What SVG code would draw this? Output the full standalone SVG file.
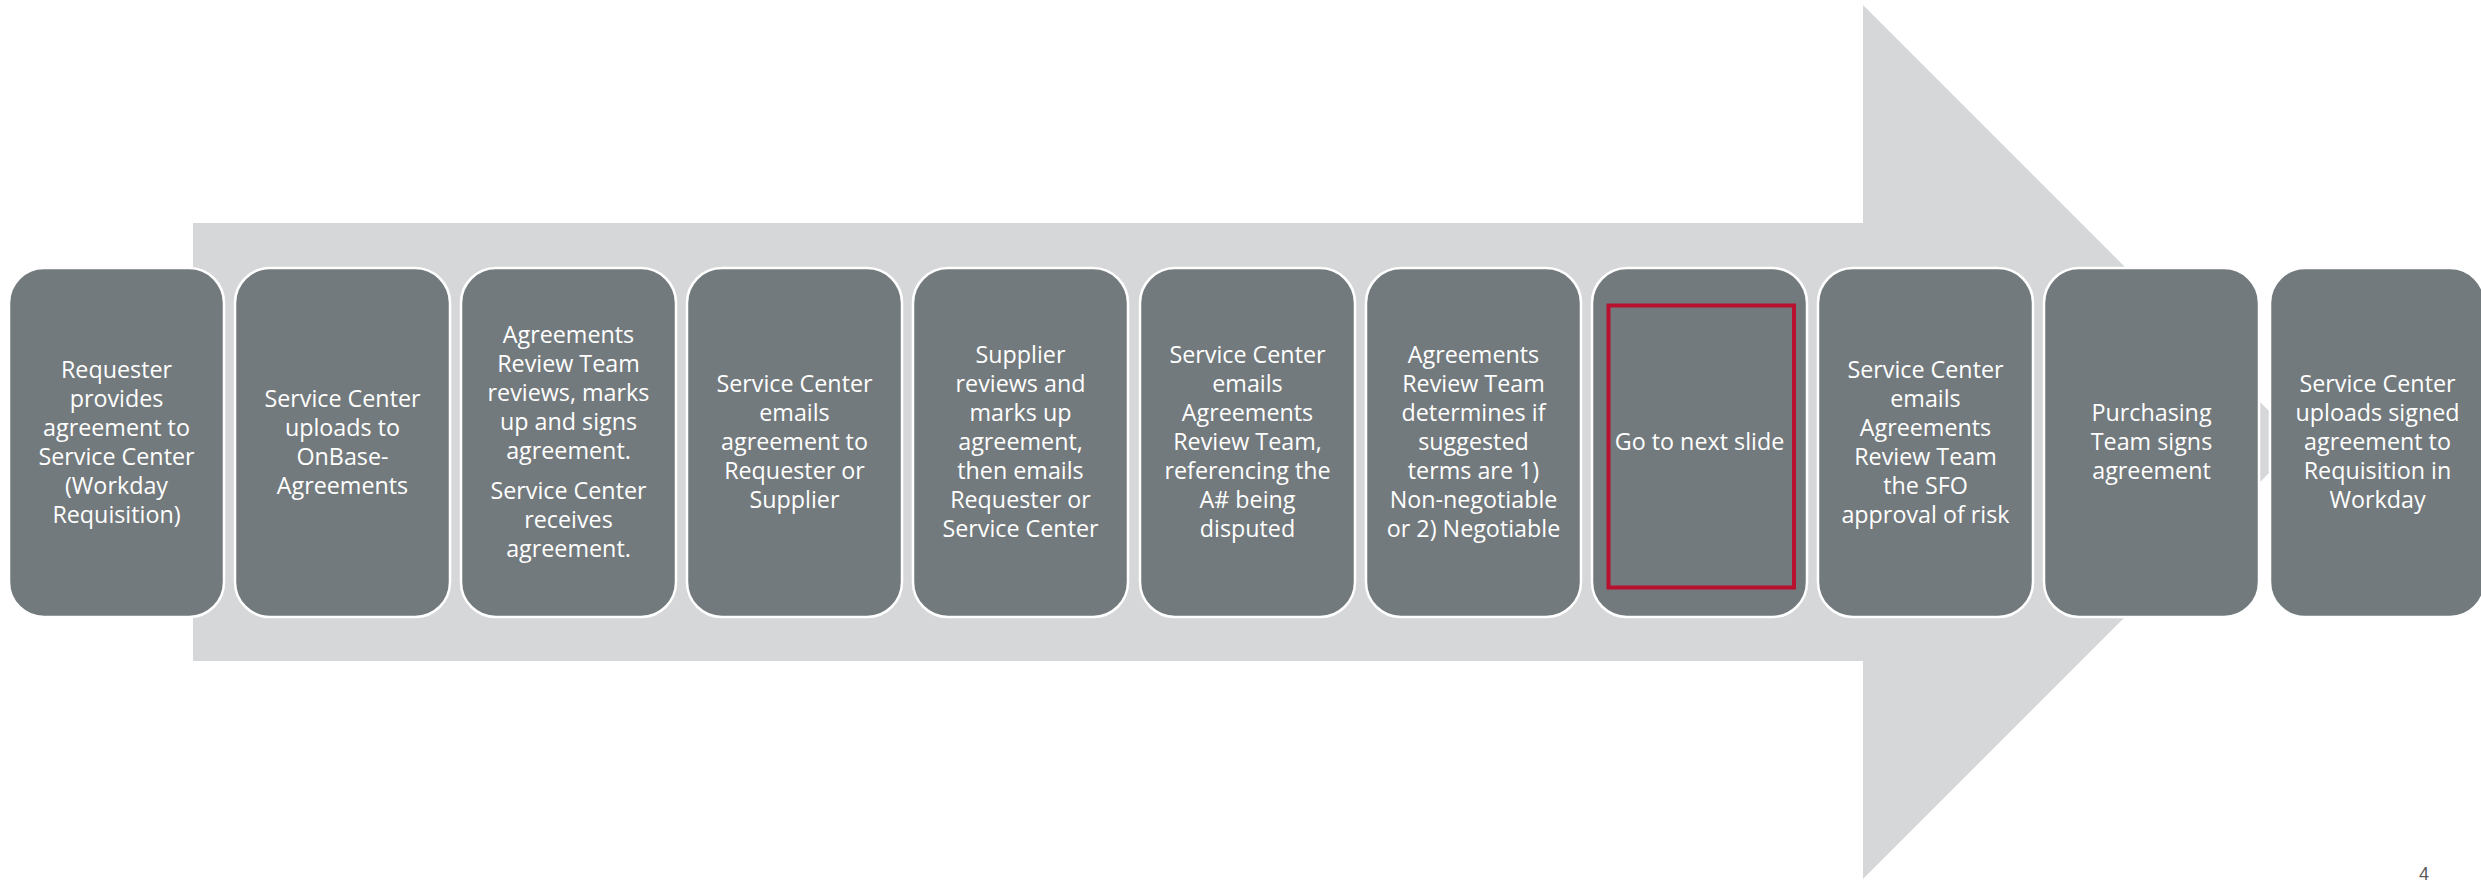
<svg xmlns="http://www.w3.org/2000/svg" width="2481" height="881" viewBox="0 0 2481 881">
<style>
.box{fill:#737a7d;stroke:#ffffff;stroke-width:2.5}
.t{font-family:"Open Sans","Liberation Sans",sans-serif;font-size:23.3px;fill:#ffffff;text-anchor:middle}
.pg{font-family:"Liberation Sans",Arial,sans-serif;font-size:18px;fill:#595959;text-anchor:middle}
</style>
<rect width="2481" height="881" fill="#ffffff"/>
<g id="arrow">
<polygon points="193,223 1863,223 1863,5 2300,442 1863,879 1863,661 193,661" fill="#d6d7d9"/>
</g>
<g id="connectors"></g>
<g id="n1"><rect class="box" x="9" y="268" width="215" height="349" rx="35"/>
<text class="t"><tspan x="116.5" y="377.5">Requester</tspan><tspan x="116.5" y="406.5">provides</tspan><tspan x="116.5" y="435.5">agreement to</tspan><tspan x="116.5" y="464.5">Service Center</tspan><tspan x="116.5" y="493.5">(Workday</tspan><tspan x="116.5" y="522.5">Requisition)</tspan></text></g>
<g id="n2"><rect class="box" x="235" y="268" width="215" height="349" rx="35"/>
<text class="t"><tspan x="342.5" y="406.5">Service Center</tspan><tspan x="342.5" y="435.5">uploads to</tspan><tspan x="342.5" y="464.5">OnBase-</tspan><tspan x="342.5" y="493.5">Agreements</tspan></text></g>
<g id="n3"><rect class="box" x="461" y="268" width="215" height="349" rx="35"/>
<text class="t"><tspan x="568.5" y="343">Agreements</tspan><tspan x="568.5" y="372">Review Team</tspan><tspan x="568.5" y="401">reviews, marks</tspan><tspan x="568.5" y="430">up and signs</tspan><tspan x="568.5" y="459">agreement.</tspan><tspan x="568.5" y="499">Service Center</tspan><tspan x="568.5" y="528">receives</tspan><tspan x="568.5" y="557">agreement.</tspan></text></g>
<g id="n4"><rect class="box" x="687" y="268" width="215" height="349" rx="35"/>
<text class="t"><tspan x="794.5" y="392">Service Center</tspan><tspan x="794.5" y="421">emails</tspan><tspan x="794.5" y="450">agreement to</tspan><tspan x="794.5" y="479">Requester or</tspan><tspan x="794.5" y="508">Supplier</tspan></text></g>
<g id="n5"><rect class="box" x="913" y="268" width="215" height="349" rx="35"/>
<text class="t"><tspan x="1020.5" y="363">Supplier</tspan><tspan x="1020.5" y="392">reviews and</tspan><tspan x="1020.5" y="421">marks up</tspan><tspan x="1020.5" y="450">agreement,</tspan><tspan x="1020.5" y="479">then emails</tspan><tspan x="1020.5" y="508">Requester or</tspan><tspan x="1020.5" y="537">Service Center</tspan></text></g>
<g id="n6"><rect class="box" x="1140" y="268" width="215" height="349" rx="35"/>
<text class="t"><tspan x="1247.5" y="363">Service Center</tspan><tspan x="1247.5" y="392">emails</tspan><tspan x="1247.5" y="421">Agreements</tspan><tspan x="1247.5" y="450">Review Team,</tspan><tspan x="1247.5" y="479">referencing the</tspan><tspan x="1247.5" y="508">A# being</tspan><tspan x="1247.5" y="537">disputed</tspan></text></g>
<g id="n7"><rect class="box" x="1366" y="268" width="215" height="349" rx="35"/>
<text class="t"><tspan x="1473.5" y="363">Agreements</tspan><tspan x="1473.5" y="392">Review Team</tspan><tspan x="1473.5" y="421">determines if</tspan><tspan x="1473.5" y="450">suggested</tspan><tspan x="1473.5" y="479">terms are 1)</tspan><tspan x="1473.5" y="508">Non-negotiable</tspan><tspan x="1473.5" y="537">or 2) Negotiable</tspan></text></g>
<g id="n8"><rect class="box" x="1592" y="268" width="215" height="349" rx="35"/>
<rect x="1608.5" y="305.5" width="185.5" height="282" fill="none" stroke="#b8102f" stroke-width="4"/>
<text class="t"><tspan x="1699.5" y="450">Go to next slide</tspan></text></g>
<g id="n9"><rect class="box" x="1818" y="268" width="215" height="349" rx="35"/>
<text class="t"><tspan x="1925.5" y="377.5">Service Center</tspan><tspan x="1925.5" y="406.5">emails</tspan><tspan x="1925.5" y="435.5">Agreements</tspan><tspan x="1925.5" y="464.5">Review Team</tspan><tspan x="1925.5" y="493.5">the SFO</tspan><tspan x="1925.5" y="522.5">approval of risk</tspan></text></g>
<g id="n10"><rect class="box" x="2044" y="268" width="215" height="349" rx="35"/>
<text class="t"><tspan x="2151.5" y="421">Purchasing</tspan><tspan x="2151.5" y="450">Team signs</tspan><tspan x="2151.5" y="479">agreement</tspan></text></g>
<g id="n11"><rect class="box" x="2270" y="268" width="215" height="349" rx="35"/>
<text class="t"><tspan x="2377.5" y="392">Service Center</tspan><tspan x="2377.5" y="421">uploads signed</tspan><tspan x="2377.5" y="450">agreement to</tspan><tspan x="2377.5" y="479">Requisition in</tspan><tspan x="2377.5" y="508">Workday</tspan></text></g>
<text class="pg" x="2424" y="880">4</text>
</svg>
